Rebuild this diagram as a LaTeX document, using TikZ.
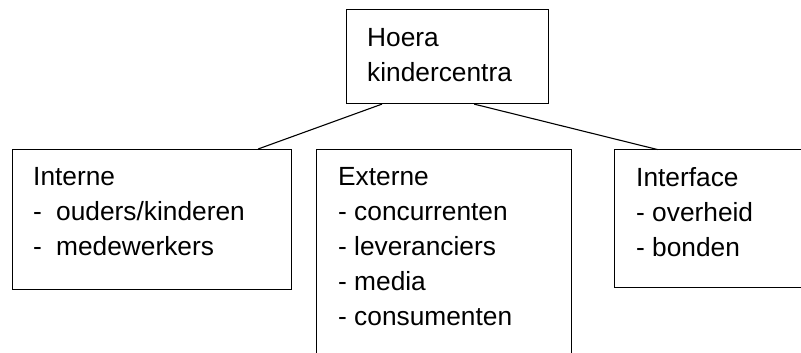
\documentclass[tikz,border=0pt]{standalone}
\usepackage{fontspec}
\setmainfont{Liberation Sans}
\usetikzlibrary{positioning}

\tikzset{
  kader/.style={draw, line width=1.1pt, inner sep=0pt, anchor=north west},
  tekst/.style={anchor=north west, inner sep=0pt, align=left,
    font=\fontsize{26.3}{35}\selectfont},
  lijn/.style={line width=1.1pt}
}

\begin{document}
\begin{tikzpicture}[x=1pt, y=-1pt]
\useasboundingbox (0,0) rectangle (801,353);
% boxes
  \node (hoera) [kader, minimum width=202pt, minimum height=94pt] at (346,9) {};
  \node (interne) [kader, minimum width=279pt, minimum height=140pt] at (12,149) {};
  \node (externe) [kader, minimum width=255pt, minimum height=240pt] at (316,149) {};
  % runs off the page on the right
  \node (interface) [kader, draw=none, outer sep=0pt, minimum width=260pt, minimum height=138pt] at (614.55,149.55) {};
  \draw [lijn] (interface.north east) -- (interface.north west) -- (interface.south west) -- (interface.south east);
% texts
  \node (thoera) [tekst] at (367,28.5) {Hoera\\kindercentra};
  \node (tinterne) [tekst] at (33,167.5) {Interne\\\makebox[23pt][l]{-}ouders/kinderen\\\makebox[23pt][l]{-}medewerkers};
  \node (texterne) [tekst] at (338,167.5) {Externe\\- concurrenten\\- leveranciers\\- media\\- consumenten};
  \node (tinterface) [tekst] at (636,167.5) {Interface\\- overheid\\- bonden};
% connectors
  \draw [lijn] ([xshift=36pt]hoera.south west) -- ([xshift=-34pt]interne.north east);
  \draw [lijn] ([xshift=-75pt]hoera.south east) -- ([xshift=43pt]interface.north west);
\end{tikzpicture}
\end{document}
